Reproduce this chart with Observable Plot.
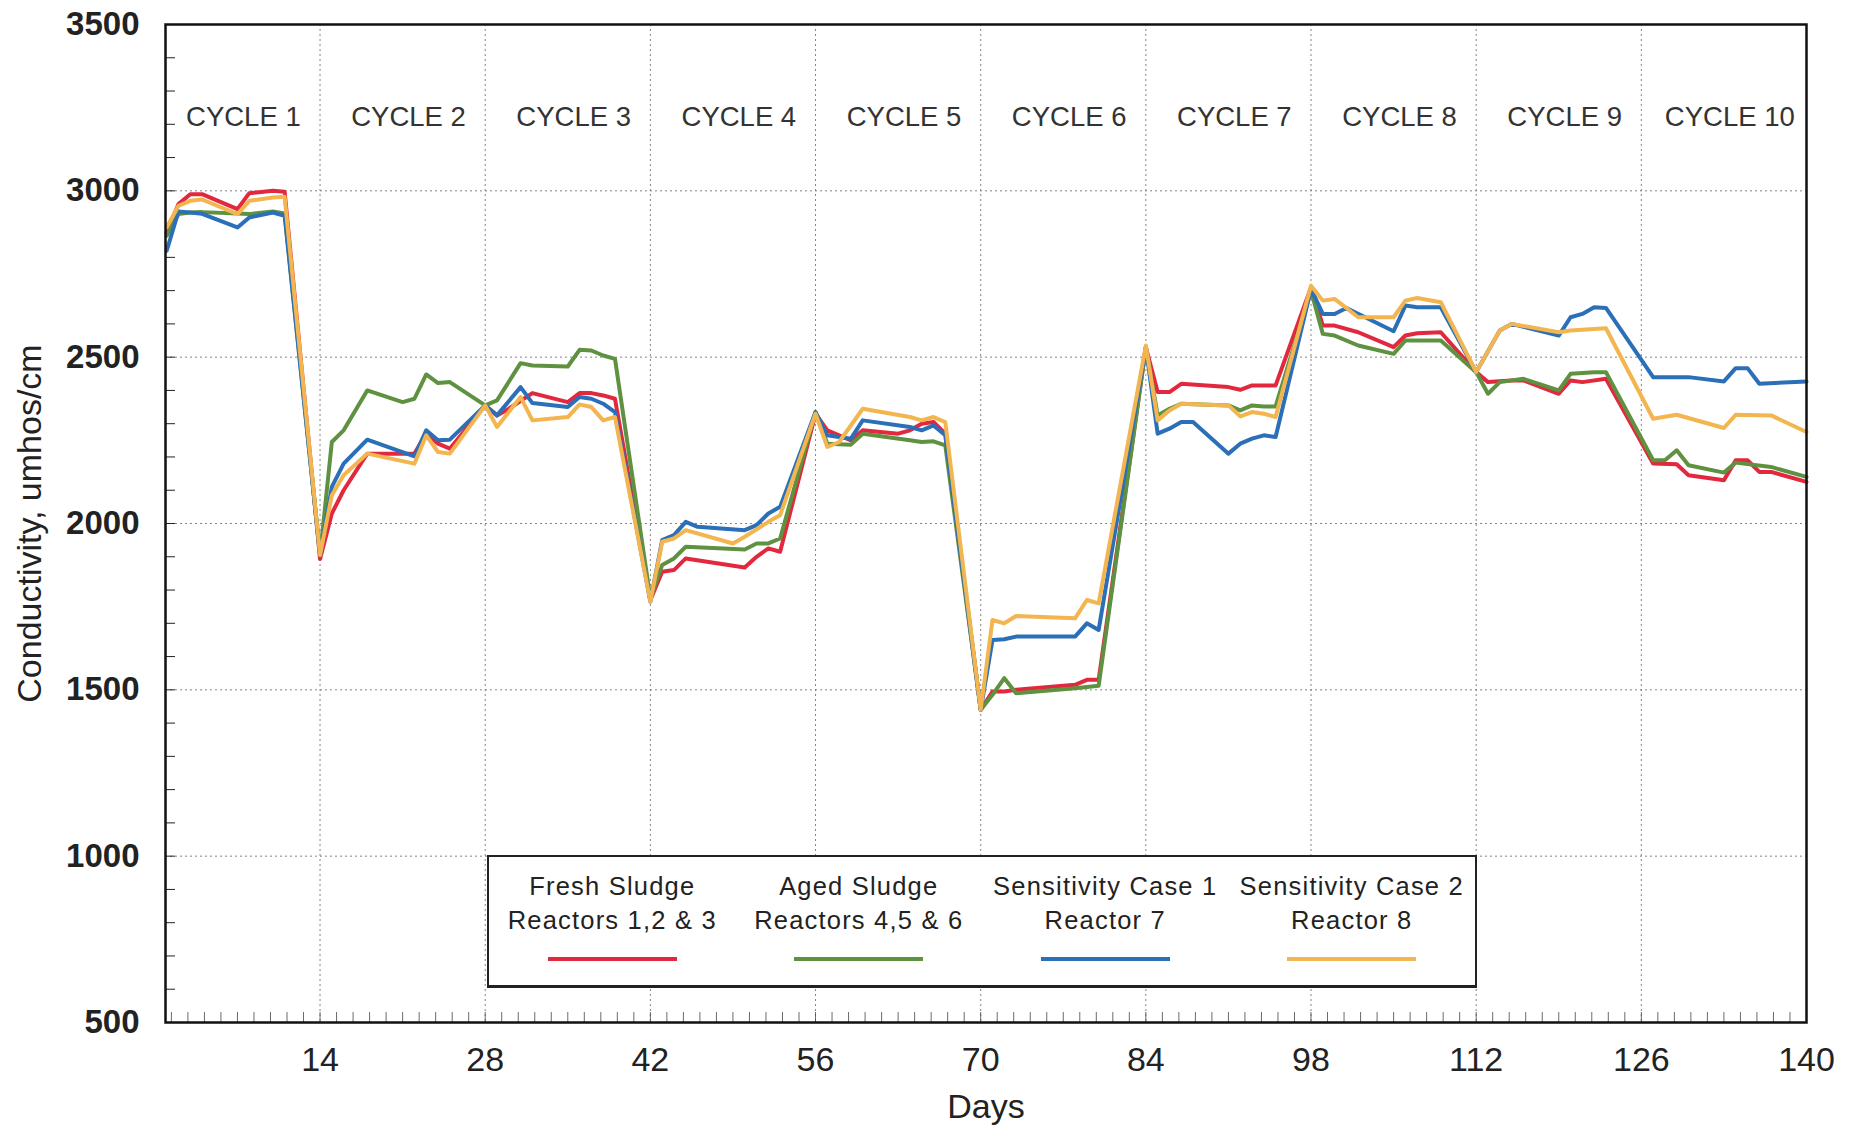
<!DOCTYPE html>
<html>
<head>
<meta charset="utf-8">
<script src="https://cdn.jsdelivr.net/npm/d3@7"></script>
<script src="https://cdn.jsdelivr.net/npm/@observablehq/plot@0.6"></script>
<style>
  body { margin: 0; background: #ffffff; }
  #wrap { position: relative; width: 1851px; height: 1128px; font-family: "Liberation Sans", Arial, sans-serif; color: #222; }
  #legend { position: absolute; left: 487px; top: 855px; width: 986px; height: 128px;
            border: 2px solid #222; border-bottom-width: 3px; background: #fff;
            display: grid; grid-template-columns: repeat(4, 1fr); }
  .item { text-align: center; padding-top: 12px; font-size: 25.5px; letter-spacing: 1.2px; line-height: 34px; color: #222; }
  .swatch { width: 129px; height: 4px; margin: 20px auto 0 auto; }
</style>
</head>
<body>
<div id="wrap"></div>
<script>
// ---------------- data ----------------
const seriesNames = ["Fresh Sludge", "Aged Sludge", "Sensitivity Case 1", "Sensitivity Case 2"];
const legendLine1 = ["Fresh Sludge", "Aged Sludge", "Sensitivity Case 1", "Sensitivity Case 2"];
const legendLine2 = ["Reactors 1,2 & 3", "Reactors 4,5 & 6", "Reactor 7", "Reactor 8"];
const seriesColors = ["#e2283e", "#5e9140", "#2a6fb7", "#f3b54f"];

const cycleNames = ["CYCLE 1","CYCLE 2","CYCLE 3","CYCLE 4","CYCLE 5","CYCLE 6","CYCLE 7","CYCLE 8","CYCLE 9","CYCLE 10"];
const cycleStarts = [0, 14, 28, 42, 56, 70, 84, 98, 112, 126];

const xTicks = [14, 28, 42, 56, 70, 84, 98, 112, 126, 140];
const yTicks = [500, 1000, 1500, 2000, 2500, 3000, 3500];

// Fresh sludge (red)
const freshDays = [1,2,3,4,7,8,10,11,14, 15,16,18,22,23,24,25,28, 29,30,32,35,36,37,38,39,42,
  43,44,45,50,51,52,53,56, 57,59,60,63,64,65,66,67,70, 71,72,73,78,79,80,84,
  85,86,87,91,92,93,94,95,98, 99,100,102,105,106,107,109,112,
  113,115,116,119,120,121,123,127, 129,130,133,134,135,136,137,140];
const freshValues = [2875,2960,2990,2990,2945,2993,3000,2997,1893, 2030,2100,2210,2210,2270,2240,2225,2355,
  2325,2345,2392,2365,2392,2392,2385,2375,1770, 1855,1860,1895,1868,1900,1925,1915,2330,
  2280,2250,2280,2270,2280,2300,2305,2270,1440, 1495,1495,1500,1515,1530,1530,2530,
  2395,2395,2420,2410,2402,2415,2415,2415,2710, 2595,2595,2575,2530,2565,2572,2575,2455,
  2425,2430,2430,2390,2430,2425,2435,2180, 2178,2145,2130,2190,2190,2155,2155,2125];

// Aged sludge (green)
const agedDays = [1,2,3,4,7,8,10,11,14, 15,16,18,21,22,23,24,25,28, 29,31,32,35,36,37,38,39,42,
  43,44,45,50,51,52,53,56, 57,59,60,64,65,66,67,70, 71,72,73,78,80,84,
  85,86,87,91,92,93,94,95,98, 99,100,102,105,106,109,112,
  113,114,116,119,120,122,123,127, 128,129,130,133,134,137,140];
const agedValues = [2865,2930,2935,2936,2932,2930,2938,2932,1905, 2245,2280,2400,2365,2375,2448,2422,2425,2355,
  2370,2482,2475,2472,2522,2520,2505,2495,1775, 1875,1895,1930,1922,1940,1940,1955,2335,
  2240,2237,2270,2250,2245,2247,2235,1440, 1485,1535,1490,1505,1512,2530,
  2325,2345,2360,2355,2340,2355,2352,2352,2700, 2570,2565,2535,2510,2550,2550,2455,
  2390,2425,2435,2400,2450,2455,2455,2190, 2190,2220,2175,2153,2183,2170,2140];

// Sensitivity case 1 (blue)
const case1Days = [1,2,3,4,7,8,10,11,14, 15,16,18,22,23,24,25,28, 29,31,32,35,36,37,38,39,42,
  43,44,45,46,50,51,52,53,56, 57,59,60,64,65,66,67,70, 71,72,73,78,79,80,84,
  85,86,87,88,91,92,93,94,95,98, 99,100,101,105,106,107,109,112,
  114,115,119,120,121,122,123,127, 130,133,134,135,136,140];
const case1Values = [2820,2938,2935,2931,2890,2920,2935,2925,1905, 2110,2180,2252,2202,2280,2250,2252,2355,
  2325,2410,2362,2350,2380,2375,2360,2335,1765, 1950,1965,2005,1990,1980,1995,2030,2050,2335,
  2265,2255,2310,2290,2280,2295,2265,1440, 1650,1652,1660,1660,1700,1680,2530,
  2270,2285,2305,2305,2210,2240,2255,2265,2260,2705, 2630,2630,2648,2578,2655,2650,2650,2455,
  2580,2600,2565,2620,2630,2650,2648,2440, 2440,2427,2467,2467,2420,2427];

// Sensitivity case 2 (yellow-orange)
const case2Days = [1,2,3,4,7,8,10,11,14, 15,16,18,22,23,24,25,28, 29,31,32,35,36,37,38,39,42,
  43,44,45,49,50,52,53,56, 57,58,60,64,65,66,67,70, 71,72,73,78,79,80,84,
  85,86,87,91,92,93,94,95,98, 99,100,102,105,106,107,109,112,
  114,115,119,120,123,127, 129,133,134,137,140];
const case2Values = [2890,2955,2970,2974,2930,2970,2980,2982,1905, 2085,2145,2210,2180,2265,2215,2210,2355,
  2290,2380,2310,2320,2358,2350,2310,2320,1765, 1945,1955,1980,1940,1960,2005,2025,2330,
  2230,2245,2345,2320,2310,2320,2305,1440, 1710,1700,1722,1715,1770,1760,2535,
  2310,2340,2360,2355,2322,2335,2330,2320,2715, 2670,2675,2620,2620,2670,2678,2665,2455,
  2580,2600,2575,2580,2587,2315, 2327,2287,2327,2325,2275];

// ---------------- build ----------------
const seriesDays = [freshDays, agedDays, case1Days, case2Days];
const seriesValues = [freshValues, agedValues, case1Values, case2Values];
const rows = [];
seriesNames.forEach((name, s) => {
  seriesDays[s].forEach((d, i) => rows.push({series: name, day: d, value: seriesValues[s][i]}));
});

const yMinor = d3.range(600, 3500, 100);
const xMinor = d3.range(1, 101).map(i => +(i * 1.4).toFixed(2));

const gridStyle = {stroke: "#777", strokeOpacity: 0.9, strokeWidth: 1, strokeDasharray: "2,3"};

const chart = Plot.plot({
  width: 1851,
  height: 1128,
  marginLeft: 165,
  marginRight: 45,
  marginTop: 24,
  marginBottom: 106,
  style: {fontFamily: "'Liberation Sans', Arial, sans-serif", background: "transparent", color: "#222", overflow: "visible"},
  x: {domain: [0.9, 140]},
  y: {domain: [500, 3500]},
  color: {domain: seriesNames, range: seriesColors},
  marks: [
    Plot.gridX(xTicks.filter(d => d < 140), gridStyle),
    Plot.gridY(yTicks.filter(d => d > 500 && d < 3500), gridStyle),
    Plot.axisY({ticks: yMinor, tickSize: 10, dx: 10, tickFormat: () => "", label: null, stroke: "#222"}),
    Plot.axisX({ticks: xMinor, tickSize: 10, dy: -10, tickFormat: () => "", label: null, stroke: "#444", strokeWidth: 0.8}),
    Plot.axisY({ticks: yTicks, tickSize: 0, tickPadding: 26, fontSize: 33, fontWeight: "bold", label: null, tickFormat: d => String(d)}),
    Plot.axisX({ticks: xTicks, tickSize: 0, tickPadding: 24, fontSize: 34, label: null, tickFormat: d => String(d)}),
    Plot.text(["Conductivity, umhos/cm"], {frameAnchor: "left", textAnchor: "middle", rotate: -90, dx: -135, fontSize: 34, fill: "#222"}),
    Plot.text(["Days"], {frameAnchor: "bottom", dy: 95, fontSize: 34, fill: "#222"}),
    Plot.text(cycleNames, {x: (d, i) => cycleStarts[i] + 7.5, frameAnchor: "top", dy: 82, fontSize: 27.5, fill: "#333"}),
    Plot.lineY(rows, {x: "day", y: "value", z: "series", stroke: "series", strokeWidth: 4, strokeLinejoin: "round"}),
    Plot.frame({stroke: "#111", strokeWidth: 2.5})
  ]
});

const wrap = document.getElementById("wrap");
wrap.appendChild(chart);

const legend = document.createElement("div");
legend.id = "legend";
seriesNames.forEach((name, i) => {
  const item = document.createElement("div");
  item.className = "item";
  const l1 = document.createElement("div"); l1.textContent = legendLine1[i];
  const l2 = document.createElement("div"); l2.textContent = legendLine2[i];
  const sw = document.createElement("div"); sw.className = "swatch"; sw.style.background = seriesColors[i];
  item.appendChild(l1); item.appendChild(l2); item.appendChild(sw);
  legend.appendChild(item);
});
wrap.appendChild(legend);
</script>
</body>
</html>
